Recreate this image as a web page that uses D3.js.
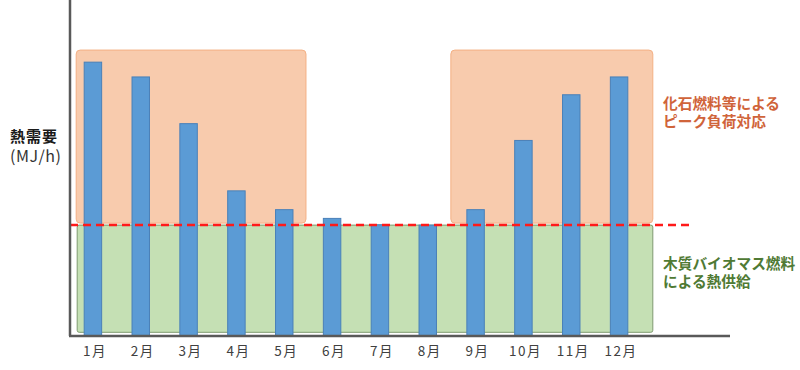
<!DOCTYPE html>
<html>
<head>
<meta charset="utf-8">
<script src="https://cdn.jsdelivr.net/npm/d3@7/dist/d3.min.js"></script>
<style>
  html, body { margin: 0; padding: 0; background: #fff; }
  svg { display: block; }
  text { font-family: "Noto Sans CJK JP", "Noto Sans", sans-serif; }
</style>
</head>
<body>
<svg id="chart" width="800" height="370"></svg>
<script>
// ---- data ----
const months = ["1月","2月","3月","4月","5月","6月","7月","8月","9月","10月","11月","12月"];
const demand = [81.5, 77.1, 63.2, 43.2, 37.6, 35.0, 33.1, 33.0, 37.6, 58.2, 71.8, 77.1];
const baseLoad = 33.0;          // biomass base supply level
const peakTop = 85.1;           // top of peak-load regions
const peakRanges = [["1月","5月"], ["9月","12月"]];
const yLabel = ["熱需要", "(MJ/h)"];
const peakLabel = ["化石燃料等による", "ピーク負荷対応"];
const baseLabel = ["木質バイオマス燃料", "による熱供給"];

// ---- layout ----
const svg = d3.select("#chart");
const x = d3.scaleBand().domain(months).range([69, 643]).paddingInner(0.635).paddingOuter(0.3175);
const y = d3.scaleLinear().domain([0, 100]).range([336, 0]);
const bw = x.bandwidth();

// peak regions (orange)
const peakPad = [[-8, 13], [-16, 25]];
peakRanges.forEach((r, i) => {
  const x0 = x(r[0]) + peakPad[i][0];
  const x1 = x(r[1]) + bw + peakPad[i][1];
  svg.append("rect")
    .attr("x", x0).attr("y", y(peakTop))
    .attr("width", x1 - x0).attr("height", y(baseLoad) - y(peakTop) - 2)
    .attr("rx", 4).attr("ry", 4)
    .attr("fill", "#f8cbad").attr("stroke", "#f4b084").attr("stroke-width", 1);
});

// base supply region (green)
{
  const x0 = x(months[0]) - 7;
  const x1 = x(months[months.length - 1]) + bw + 25;
  svg.append("rect")
    .attr("x", x0).attr("y", y(baseLoad))
    .attr("width", x1 - x0).attr("height", y(1.1) - y(baseLoad))
    .attr("rx", 2).attr("ry", 2)
    .attr("fill", "#c5e0b4").attr("stroke", "#7f9a70").attr("stroke-width", 1);
}

// bars
svg.append("g").selectAll("rect").data(demand).join("rect")
  .attr("x", (d, i) => x(months[i]))
  .attr("y", d => y(d))
  .attr("width", bw)
  .attr("height", d => y(0) - y(d))
  .attr("fill", "#5b9bd5")
  .attr("stroke", "#4a80b8")
  .attr("stroke-width", 1);

// dashed base line
svg.append("line")
  .attr("x1", 70).attr("x2", 690)
  .attr("y1", y(baseLoad)).attr("y2", y(baseLoad))
  .attr("stroke", "#ff1a1a").attr("stroke-width", 2.5)
  .attr("stroke-dasharray", "8,5");

// axes lines
svg.append("line").attr("x1", 70).attr("x2", 70).attr("y1", 0).attr("y2", y(0))
  .attr("stroke", "#595959").attr("stroke-width", 2.5);
svg.append("line").attr("x1", 69).attr("x2", 730).attr("y1", y(0)).attr("y2", y(0))
  .attr("stroke", "#595959").attr("stroke-width", 2.5);

// x axis labels
const xAxis = svg.append("g").attr("transform", `translate(2,${y(0)})`)
  .call(d3.axisBottom(x).tickSize(0).tickPadding(10));
xAxis.select(".domain").remove();
xAxis.selectAll("text").attr("font-size", 13.5).attr("fill", "#404040")
  .attr("letter-spacing", "1.5px")
  .attr("font-family", "\"Noto Sans CJK JP\", sans-serif");

// y label
svg.append("text").attr("x", 10).attr("y", 142)
  .attr("font-size", 15).attr("font-weight", "bold").attr("fill", "#1a1a1a")
  .attr("textLength", 47).attr("lengthAdjust", "spacing")
  .text(yLabel[0]);
svg.append("text").attr("x", 10).attr("y", 161.5)
  .attr("font-size", 16).attr("fill", "#333")
  .attr("textLength", 51).attr("lengthAdjust", "spacing")
  .text(yLabel[1]);

// region labels
peakLabel.forEach((t, i) => {
  svg.append("text").attr("x", 663).attr("y", 108.5 + i * 18.5)
    .attr("font-size", 14.7).attr("font-weight", "bold").attr("fill", "#d0643a")
    .text(t);
});
baseLabel.forEach((t, i) => {
  svg.append("text").attr("x", 663).attr("y", 268.5 + i * 18.5)
    .attr("font-size", 14.7).attr("font-weight", "bold").attr("fill", "#4f7a34")
    .text(t);
});
</script>
</body>
</html>
